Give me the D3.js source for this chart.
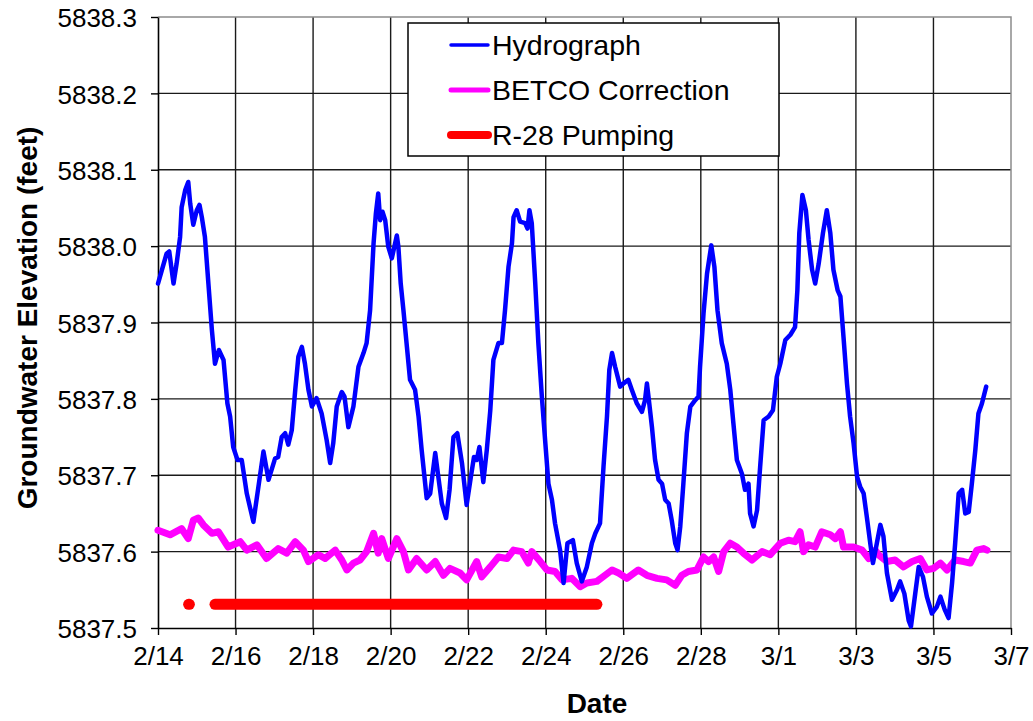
<!DOCTYPE html>
<html>
<head>
<meta charset="utf-8">
<script src="https://cdn.jsdelivr.net/npm/d3@7"></script>
<style>
  body { margin: 0; background: #fff; }
  svg text { font-family: "Liberation Sans", Arial, sans-serif; fill: #000; }
</style>
</head>
<body>
<script>
// Hydrograph (days after 2/14/2008 00:00, elevation in feet)
var hydroDay = [0,0.22,0.29,0.4,0.48,0.57,0.61,0.7,0.78,0.83,
  0.91,1.0,1.07,1.13,1.21,1.3,1.39,1.47,1.57,1.69,
  1.79,1.86,1.94,2.05,2.16,2.29,2.46,2.59,2.72,2.85,
  3.02,3.1,3.19,3.28,3.36,3.45,3.54,3.62,3.71,3.79,
  3.88,3.97,4.09,4.22,4.35,4.44,4.52,4.61,4.74,4.81,
  4.91,5.04,5.17,5.3,5.38,5.47,5.56,5.62,5.68,5.73,
  5.79,5.86,5.94,6.03,6.16,6.2,6.26,6.33,6.42,6.5,
  6.63,6.72,6.8,6.93,7.02,7.15,7.23,7.32,7.43,7.52,
  7.62,7.72,7.84,7.96,8.07,8.15,8.22,8.29,8.39,8.48,
  8.57,8.65,8.78,8.87,8.95,9.04,9.13,9.17,9.25,9.34,
  9.47,9.53,9.58,9.64,9.73,9.81,9.9,9.99,10.07,10.16,
  10.24,10.37,10.46,10.56,10.7,10.8,10.93,11.06,11.19,11.28,
  11.4,11.49,11.58,11.64,11.71,11.79,11.92,12.0,12.13,12.22,
  12.35,12.48,12.56,12.61,12.65,12.74,12.82,12.91,13.0,13.08,
  13.17,13.25,13.34,13.4,13.47,13.55,13.64,13.73,13.85,13.94,
  13.98,14.07,14.16,14.27,14.35,14.43,14.54,14.67,14.76,14.84,
  14.93,15.06,15.14,15.23,15.27,15.36,15.45,15.53,15.62,15.75,
  15.86,15.96,16.05,16.18,16.31,16.43,16.49,16.54,16.62,16.71,
  16.78,16.87,16.95,17.04,17.15,17.25,17.34,17.42,17.53,17.6,
  17.68,17.77,17.85,17.94,18.03,18.11,18.2,18.28,18.37,18.44,
  18.54,18.63,18.71,18.8,18.93,19.06,19.14,19.25,19.36,19.42,
  19.53,19.62,19.73,19.83,19.96,20.09,20.18,20.29,20.39,20.48,
  20.56,20.65,20.74,20.82,20.91,20.99,21.08,21.16,21.25,21.36];

var hydroFeet = [5837.951,5837.990,5837.993,5837.951,5837.977,5838.012,5838.051,5838.073,5838.084,5838.056,
  5838.028,5838.047,5838.054,5838.038,5838.012,5837.951,5837.890,5837.846,5837.864,5837.851,
  5837.794,5837.777,5837.737,5837.720,5837.720,5837.676,5837.639,5837.685,5837.731,5837.694,
  5837.722,5837.724,5837.750,5837.755,5837.740,5837.759,5837.812,5837.855,5837.868,5837.846,
  5837.812,5837.790,5837.801,5837.781,5837.746,5837.716,5837.742,5837.790,5837.809,5837.803,
  5837.763,5837.790,5837.842,5837.860,5837.873,5837.916,5838.004,5838.043,5838.069,5838.034,
  5838.045,5838.034,5837.999,5837.984,5838.014,5837.999,5837.951,5837.916,5837.868,5837.825,
  5837.812,5837.777,5837.733,5837.670,5837.676,5837.729,5837.698,5837.663,5837.644,5837.681,
  5837.750,5837.755,5837.716,5837.661,5837.698,5837.724,5837.720,5837.737,5837.691,5837.733,
  5837.785,5837.851,5837.873,5837.873,5837.916,5837.973,5838.004,5838.038,5838.047,5838.032,
  5838.030,5838.023,5838.047,5838.030,5837.951,5837.873,5837.803,5837.742,5837.689,5837.668,
  5837.637,5837.602,5837.559,5837.611,5837.615,5837.585,5837.561,5837.580,5837.611,5837.624,
  5837.637,5837.711,5837.777,5837.838,5837.860,5837.842,5837.816,5837.820,5837.825,5837.812,
  5837.794,5837.783,5837.798,5837.820,5837.803,5837.763,5837.720,5837.694,5837.689,5837.668,
  5837.663,5837.641,5837.611,5837.602,5837.633,5837.689,5837.755,5837.790,5837.798,5837.803,
  5837.842,5837.912,5837.964,5838.001,5837.973,5837.916,5837.873,5837.846,5837.812,5837.768,
  5837.720,5837.702,5837.681,5837.689,5837.650,5837.633,5837.654,5837.711,5837.772,5837.777,
  5837.785,5837.829,5837.846,5837.877,5837.884,5837.894,5837.942,5838.017,5838.067,5838.047,
  5838.008,5837.969,5837.951,5837.977,5838.017,5838.047,5838.017,5837.969,5837.942,5837.934,
  5837.881,5837.820,5837.777,5837.742,5837.698,5837.685,5837.676,5837.646,5837.611,5837.585,
  5837.611,5837.635,5837.620,5837.572,5837.537,5837.550,5837.561,5837.545,5837.510,5837.502,
  5837.545,5837.580,5837.567,5837.541,5837.519,5837.528,5837.541,5837.524,5837.513,5837.559,
  5837.611,5837.676,5837.681,5837.650,5837.652,5837.689,5837.733,5837.781,5837.794,5837.816];

// BETCO correction [day, feet]
var betco = [[0,5837.628],[0.31,5837.622],[0.61,5837.630],[0.78,5837.617],[0.91,5837.641],
  [1.04,5837.644],[1.17,5837.635],[1.39,5837.624],[1.56,5837.626],[1.81,5837.606],
  [2.12,5837.613],[2.29,5837.602],[2.55,5837.609],[2.8,5837.591],[3.1,5837.604],
  [3.32,5837.598],[3.54,5837.613],[3.75,5837.602],[3.88,5837.587],[4.14,5837.596],
  [4.31,5837.591],[4.57,5837.602],[4.74,5837.589],[4.87,5837.576],[5.04,5837.585],
  [5.21,5837.589],[5.38,5837.600],[5.56,5837.624],[5.68,5837.598],[5.77,5837.617],
  [5.94,5837.591],[6.16,5837.617],[6.33,5837.600],[6.46,5837.576],[6.67,5837.591],
  [6.93,5837.576],[7.15,5837.587],[7.36,5837.569],[7.53,5837.578],[7.79,5837.572],
  [7.96,5837.563],[8.22,5837.587],[8.35,5837.567],[8.57,5837.580],[8.78,5837.593],
  [9.0,5837.591],[9.17,5837.602],[9.38,5837.600],[9.55,5837.585],[9.64,5837.600],
  [9.86,5837.587],[10.03,5837.576],[10.24,5837.574],[10.42,5837.563],[10.67,5837.565],
  [10.89,5837.554],[11.06,5837.559],[11.32,5837.561],[11.53,5837.569],[11.71,5837.576],
  [11.88,5837.572],[12.09,5837.565],[12.39,5837.576],[12.61,5837.569],[12.87,5837.565],
  [13.12,5837.563],[13.34,5837.556],[13.51,5837.569],[13.68,5837.574],[13.9,5837.576],
  [14.07,5837.593],[14.2,5837.587],[14.33,5837.593],[14.46,5837.574],[14.59,5837.600],
  [14.76,5837.611],[14.93,5837.606],[15.1,5837.598],[15.32,5837.589],[15.58,5837.600],
  [15.79,5837.596],[16.05,5837.611],[16.26,5837.615],[16.43,5837.613],[16.56,5837.626],
  [16.65,5837.600],[16.78,5837.609],[16.95,5837.606],[17.12,5837.626],[17.34,5837.622],
  [17.47,5837.617],[17.6,5837.626],[17.68,5837.606],[17.94,5837.606],[18.16,5837.602],
  [18.33,5837.591],[18.5,5837.602],[18.58,5837.596],[18.8,5837.587],[19.01,5837.589],
  [19.23,5837.580],[19.45,5837.587],[19.66,5837.591],[19.83,5837.576],[20.0,5837.578],
  [20.18,5837.585],[20.35,5837.576],[20.56,5837.589],[20.78,5837.587],[20.95,5837.585],
  [21.12,5837.602],[21.29,5837.604],[21.38,5837.602]];

// R-28 pumping periods (start day, end day) drawn at a fixed marker level
var pumpStart = [0.79, 1.47];
var pumpEnd = [0.81, 11.32];
var pumpLevel = 5837.531;

var xTickDates = ["2008-02-14","2008-02-16","2008-02-18","2008-02-20","2008-02-22","2008-02-24",
  "2008-02-26","2008-02-28","2008-03-01","2008-03-03","2008-03-05","2008-03-07"];
var yTicks = [5837.5,5837.6,5837.7,5837.8,5837.9,5838.0,5838.1,5838.2,5838.3];

var legendNames = ["Hydrograph", "BETCO Correction", "R-28 Pumping"];
var legendColors = ["#0000ff", "#ff00ff", "#ff0000"];
var legendWidths = [3.5, 5, 8];

var width = 1033, height = 721;
var plot = {left: 158, right: 1011, top: 17, bottom: 628};
var startMs = Date.UTC(2008, 1, 14);

function dayToDate(d) { return new Date(startMs + d * 864e5); }

var svg = d3.select("body").append("svg")
  .attr("width", width).attr("height", height);

var tickDates = xTickDates.map(d3.utcParse("%Y-%m-%d"));

var x = d3.scaleUtc()
  .domain([tickDates[0], tickDates[tickDates.length - 1]])
  .range([plot.left, plot.right]);

var y = d3.scaleLinear()
  .domain([yTicks[0], yTicks[yTicks.length - 1]])
  .range([plot.bottom, plot.top]);

// gridlines
var grid = svg.append("g").attr("stroke", "#1a1a1a").attr("stroke-width", 1.4);
grid.selectAll("line.h").data(yTicks.slice(1, -1)).enter().append("line")
  .attr("x1", plot.left).attr("x2", plot.right)
  .attr("y1", function(d) { return y(d); }).attr("y2", function(d) { return y(d); });
grid.selectAll("line.v").data(tickDates.slice(1, -1)).enter().append("line")
  .attr("y1", plot.top).attr("y2", plot.bottom)
  .attr("x1", function(d) { return x(d); }).attr("x2", function(d) { return x(d); });

// gray plot frame on top/right
svg.append("path")
  .attr("d", "M" + plot.left + "," + plot.top + "H" + plot.right + "V" + plot.bottom)
  .attr("fill", "none").attr("stroke", "#8c8c8c").attr("stroke-width", 1.5);

// axes
var xAxis = d3.axisBottom(x).tickValues(tickDates)
  .tickFormat(d3.utcFormat("%-m/%-d")).tickSize(7).tickSizeOuter(0).tickPadding(12);
var yAxis = d3.axisLeft(y).tickValues(yTicks)
  .tickFormat(d3.format(".1f")).tickSize(7).tickSizeOuter(0).tickPadding(14);

var gx = svg.append("g").attr("transform", "translate(0," + plot.bottom + ")").call(xAxis);
var gy = svg.append("g").attr("transform", "translate(" + plot.left + ",0)").call(yAxis);

[gx, gy].forEach(function(g) {
  g.select(".domain").attr("stroke", "#000").attr("stroke-width", 1.6);
  g.selectAll(".tick line").attr("stroke", "#000").attr("stroke-width", 1.4);
  g.selectAll(".tick text").attr("font-size", 26).attr("font-family", "Liberation Sans, Arial, sans-serif").attr("fill", "#000");
});
gy.selectAll(".tick text").attr("dy", "0.37em");

// axis titles
svg.append("text")
  .attr("transform", "translate(37,318) rotate(-90)")
  .attr("text-anchor", "middle")
  .attr("font-size", 28).attr("font-weight", "bold")
  .text("Groundwater Elevation (feet)");

svg.append("text")
  .attr("x", 597).attr("y", 713)
  .attr("text-anchor", "middle")
  .attr("font-size", 28).attr("font-weight", "bold")
  .text("Date");

// series
var line = d3.line()
  .x(function(d) { return x(dayToDate(d[0])); })
  .y(function(d) { return y(d[1]); });

svg.append("path")
  .datum(betco)
  .attr("d", line)
  .attr("fill", "none").attr("stroke", "#ff00ff").attr("stroke-width", 7)
  .attr("stroke-linejoin", "round").attr("stroke-linecap", "round");

svg.append("path")
  .datum(d3.zip(hydroDay, hydroFeet))
  .attr("d", line)
  .attr("fill", "none").attr("stroke", "#0000ff").attr("stroke-width", 4.5)
  .attr("stroke-linejoin", "round").attr("stroke-linecap", "round");

svg.selectAll("line.pump").data(d3.zip(pumpStart, pumpEnd)).enter().append("line")
  .attr("class", "pump")
  .attr("x1", function(d) { return x(dayToDate(d[0])); })
  .attr("x2", function(d) { return x(dayToDate(d[1])); })
  .attr("y1", y(pumpLevel)).attr("y2", y(pumpLevel))
  .attr("stroke", "#ff0000").attr("stroke-width", 11).attr("stroke-linecap", "round");

// legend
var legend = svg.append("g");
legend.append("rect")
  .attr("x", 408).attr("y", 23).attr("width", 371).attr("height", 133)
  .attr("fill", "#fff").attr("stroke", "#000").attr("stroke-width", 1.5);

var items = legend.selectAll("g.item").data(legendNames).enter().append("g")
  .attr("transform", function(d, i) { return "translate(0," + (45 + i * 45) + ")"; });
items.append("line")
  .attr("x1", 451).attr("x2", 488).attr("y1", 0).attr("y2", 0)
  .attr("stroke", function(d, i) { return legendColors[i]; })
  .attr("stroke-width", function(d, i) { return legendWidths[i]; })
  .attr("stroke-linecap", "round");
items.append("text")
  .attr("x", 492).attr("y", 10)
  .attr("font-size", 28.5)
  .text(function(d) { return d; });
</script>
</body>
</html>
